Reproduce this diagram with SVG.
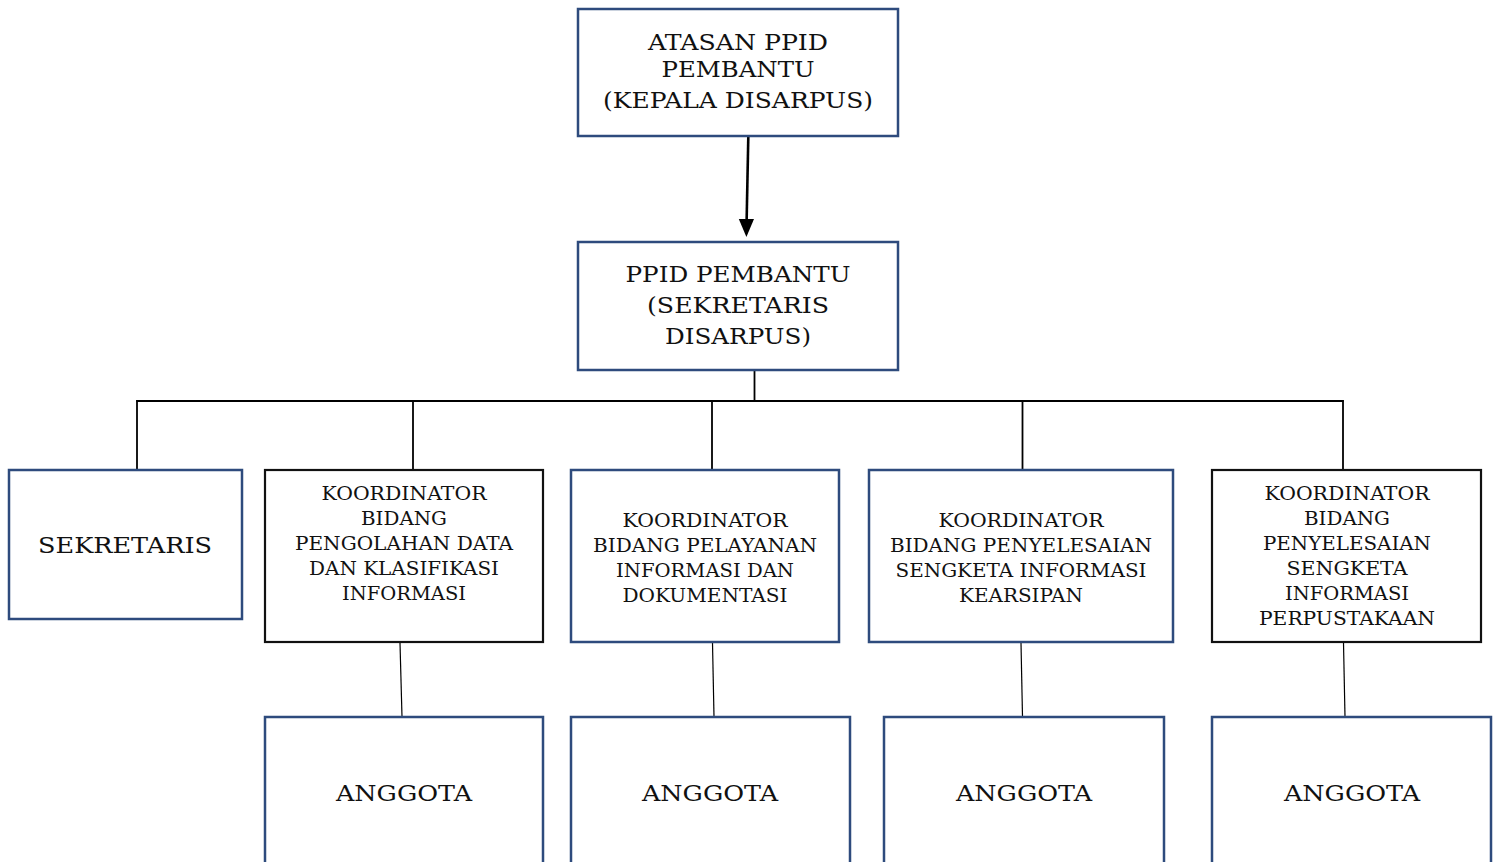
<svg xmlns="http://www.w3.org/2000/svg" width="1498" height="862" viewBox="0 0 1498 862">
<style>
.bn{fill:#fff;stroke:#2E4B7D;stroke-width:2.5}
.bk{fill:#fff;stroke:#111;stroke-width:2.2}
.t{font-family:"DejaVu Serif","Liberation Serif",serif;fill:#111;text-anchor:middle}
.L{font-size:22px}
.S{font-size:18.5px}
.c{stroke:#000;stroke-width:1.8;fill:none}
.c2{stroke:#000;stroke-width:1.2;fill:none}
</style>
<rect width="1498" height="862" fill="#fff"/>
<g id="connectors">
<line x1="748.3" y1="137" x2="746.6" y2="222" stroke="#000" stroke-width="2.6"/>
<polygon points="738.8,219 754,219 746.4,237" fill="#000"/>
<line class="c" x1="754.5" y1="370" x2="754.5" y2="401"/>
<line class="c" x1="136.5" y1="401" x2="1343.5" y2="401"/>
<line class="c" x1="137" y1="400" x2="137" y2="469"/>
<line class="c" x1="413" y1="400" x2="413" y2="469"/>
<line class="c" x1="712" y1="400" x2="712" y2="469"/>
<line class="c" x1="1022.5" y1="400" x2="1022.5" y2="469"/>
<line class="c" x1="1343" y1="400" x2="1343" y2="469"/>
<line class="c2" x1="400" y1="643" x2="402" y2="717"/>
<line class="c2" x1="712.5" y1="643" x2="714" y2="717"/>
<line class="c2" x1="1021" y1="643" x2="1022.5" y2="717"/>
<line class="c2" x1="1343.5" y1="643" x2="1345" y2="717"/>
</g>
<g id="atasan">
<rect class="bn" x="578" y="9" width="320" height="127"/>
<text class="t L" x="738" y="50" textLength="180" lengthAdjust="spacingAndGlyphs">ATASAN PPID</text>
<text class="t L" x="738" y="77" textLength="153" lengthAdjust="spacingAndGlyphs">PEMBANTU</text>
<text class="t L" x="738" y="108" textLength="270" lengthAdjust="spacingAndGlyphs">(KEPALA DISARPUS)</text>
</g>
<g id="ppid">
<rect class="bn" x="578" y="242" width="320" height="128"/>
<text class="t L" x="738" y="282" textLength="225" lengthAdjust="spacingAndGlyphs">PPID PEMBANTU</text>
<text class="t L" x="738" y="313" textLength="182" lengthAdjust="spacingAndGlyphs">(SEKRETARIS</text>
<text class="t L" x="738" y="344" textLength="146" lengthAdjust="spacingAndGlyphs">DISARPUS)</text>
</g>
<g id="sekretaris">
<rect class="bn" x="9" y="470" width="233" height="149"/>
<text class="t L" x="125" y="553" textLength="174" lengthAdjust="spacingAndGlyphs">SEKRETARIS</text>
</g>
<g id="koord1">
<rect class="bk" x="265" y="470" width="278" height="172"/>
<text class="t S" x="404" y="500" textLength="165" lengthAdjust="spacingAndGlyphs">KOORDINATOR</text>
<text class="t S" x="404" y="525" textLength="86" lengthAdjust="spacingAndGlyphs">BIDANG</text>
<text class="t S" x="404" y="550" textLength="218" lengthAdjust="spacingAndGlyphs">PENGOLAHAN DATA</text>
<text class="t S" x="404" y="575" textLength="190" lengthAdjust="spacingAndGlyphs">DAN KLASIFIKASI</text>
<text class="t S" x="404" y="600" textLength="124" lengthAdjust="spacingAndGlyphs">INFORMASI</text>
</g>
<g id="koord2">
<rect class="bn" x="571" y="470" width="268" height="172"/>
<text class="t S" x="705" y="527" textLength="165" lengthAdjust="spacingAndGlyphs">KOORDINATOR</text>
<text class="t S" x="705" y="552" textLength="224" lengthAdjust="spacingAndGlyphs">BIDANG PELAYANAN</text>
<text class="t S" x="705" y="577" textLength="178" lengthAdjust="spacingAndGlyphs">INFORMASI DAN</text>
<text class="t S" x="705" y="602" textLength="165" lengthAdjust="spacingAndGlyphs">DOKUMENTASI</text>
</g>
<g id="koord3">
<rect class="bn" x="869" y="470" width="304" height="172"/>
<text class="t S" x="1021" y="527" textLength="165" lengthAdjust="spacingAndGlyphs">KOORDINATOR</text>
<text class="t S" x="1021" y="552" textLength="262" lengthAdjust="spacingAndGlyphs">BIDANG PENYELESAIAN</text>
<text class="t S" x="1021" y="577" textLength="251" lengthAdjust="spacingAndGlyphs">SENGKETA INFORMASI</text>
<text class="t S" x="1021" y="602" textLength="124" lengthAdjust="spacingAndGlyphs">KEARSIPAN</text>
</g>
<g id="koord4">
<rect class="bk" x="1212" y="470" width="269" height="172"/>
<text class="t S" x="1347" y="500" textLength="165" lengthAdjust="spacingAndGlyphs">KOORDINATOR</text>
<text class="t S" x="1347" y="525" textLength="86" lengthAdjust="spacingAndGlyphs">BIDANG</text>
<text class="t S" x="1347" y="550" textLength="168" lengthAdjust="spacingAndGlyphs">PENYELESAIAN</text>
<text class="t S" x="1347" y="575" textLength="121" lengthAdjust="spacingAndGlyphs">SENGKETA</text>
<text class="t S" x="1347" y="600" textLength="124" lengthAdjust="spacingAndGlyphs">INFORMASI</text>
<text class="t S" x="1347" y="625" textLength="176" lengthAdjust="spacingAndGlyphs">PERPUSTAKAAN</text>
</g>
<g id="anggota1">
<rect class="bn" x="265" y="717" width="278" height="160"/>
<text class="t L" x="404" y="801" textLength="136" lengthAdjust="spacingAndGlyphs">ANGGOTA</text>
</g>
<g id="anggota2">
<rect class="bn" x="571" y="717" width="279" height="160"/>
<text class="t L" x="710" y="801" textLength="136" lengthAdjust="spacingAndGlyphs">ANGGOTA</text>
</g>
<g id="anggota3">
<rect class="bn" x="884" y="717" width="280" height="160"/>
<text class="t L" x="1024" y="801" textLength="136" lengthAdjust="spacingAndGlyphs">ANGGOTA</text>
</g>
<g id="anggota4">
<rect class="bn" x="1212" y="717" width="279" height="160"/>
<text class="t L" x="1352" y="801" textLength="136" lengthAdjust="spacingAndGlyphs">ANGGOTA</text>
</g>
</svg>
